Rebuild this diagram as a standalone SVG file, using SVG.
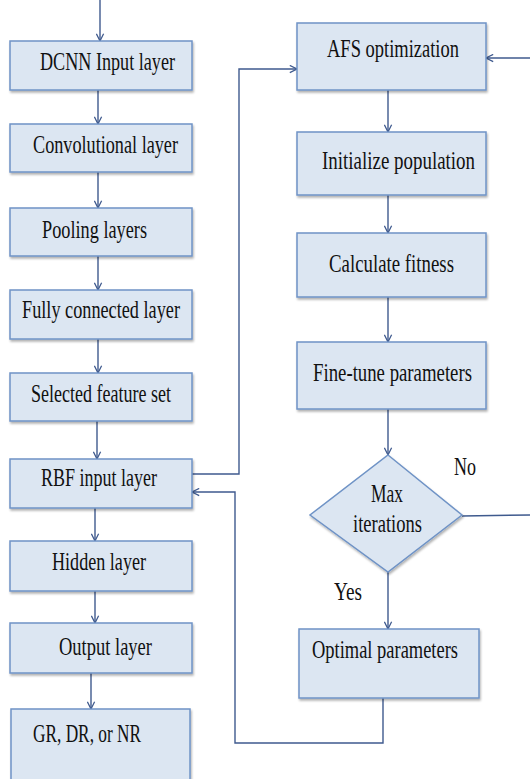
<svg xmlns="http://www.w3.org/2000/svg" width="530" height="779" viewBox="0 0 530 779">
<defs>
<marker id="ah" viewBox="0 0 10 10" refX="9" refY="5" markerWidth="9" markerHeight="9" markerUnits="userSpaceOnUse" orient="auto">
<path d="M1,1 L9,5 L1,9" fill="none" stroke="#3f5a8e" stroke-width="1.4"/>
</marker>
<filter id="sh" x="-5%" y="-5%" width="115%" height="125%">
<feDropShadow dx="1" dy="2" stdDeviation="1.2" flood-color="#000" flood-opacity="0.3"/>
</filter>
</defs>
<style>
.box{fill:#dce6f2;stroke:#6f93c6;stroke-width:1.5;filter:url(#sh)}
.c{fill:none;stroke:#3f5a8e;stroke-width:1.4}
</style>
<rect width="530" height="779" fill="#fff"/>
<g id="connectors">
<line class="c" x1="100" y1="0" x2="100" y2="41" marker-end="url(#ah)"/>
<line class="c" x1="98" y1="90" x2="98" y2="124" marker-end="url(#ah)"/>
<line class="c" x1="98" y1="172" x2="98" y2="208" marker-end="url(#ah)"/>
<line class="c" x1="98" y1="256" x2="98" y2="290" marker-end="url(#ah)"/>
<line class="c" x1="98" y1="339" x2="98" y2="373" marker-end="url(#ah)"/>
<line class="c" x1="97" y1="421" x2="97" y2="459" marker-end="url(#ah)"/>
<line class="c" x1="95" y1="508" x2="95" y2="541" marker-end="url(#ah)"/>
<line class="c" x1="95" y1="591" x2="95" y2="623" marker-end="url(#ah)"/>
<line class="c" x1="91" y1="673" x2="91" y2="709" marker-end="url(#ah)"/>
<polyline class="c" points="192,474 239,474 239,69 297,69" marker-end="url(#ah)"/>
<polyline class="c" points="383,698 383,743 235,743 235,492 192,492" marker-end="url(#ah)"/>
<polyline class="c" points="462,516 530,515"/>
<line class="c" x1="530" y1="58" x2="486" y2="58" marker-end="url(#ah)"/>
<line class="c" x1="388" y1="90" x2="388" y2="132" marker-end="url(#ah)"/>
<line class="c" x1="388" y1="195" x2="388" y2="233" marker-end="url(#ah)"/>
<line class="c" x1="388" y1="297" x2="388" y2="342" marker-end="url(#ah)"/>
<line class="c" x1="388" y1="409" x2="388" y2="455" marker-end="url(#ah)"/>
<line class="c" x1="388" y1="572" x2="388" y2="629" marker-end="url(#ah)"/>
</g>
<g font-family="Liberation Serif, Tinos, Times New Roman, serif" font-size="25" fill="#111" lengthAdjust="spacingAndGlyphs">
<g id="dcnn-input"><rect class="box" x="10" y="41" width="182" height="49"/><text x="40" y="70" textLength="135" lengthAdjust="spacingAndGlyphs">DCNN Input layer</text></g>
<g id="conv"><rect class="box" x="10" y="124" width="182" height="48"/><text x="33" y="153" textLength="145" lengthAdjust="spacingAndGlyphs">Convolutional layer</text></g>
<g id="pool"><rect class="box" x="10" y="208" width="182" height="48"/><text x="42" y="238" textLength="105" lengthAdjust="spacingAndGlyphs">Pooling layers</text></g>
<g id="fc"><rect class="box" x="10" y="290" width="182" height="49"/><text x="22" y="318" textLength="158" lengthAdjust="spacingAndGlyphs">Fully connected layer</text></g>
<g id="feat"><rect class="box" x="10" y="373" width="182" height="48"/><text x="31" y="402" textLength="140" lengthAdjust="spacingAndGlyphs">Selected feature set</text></g>
<g id="rbf"><rect class="box" x="10" y="459" width="182" height="49"/><text x="41" y="486" textLength="116" lengthAdjust="spacingAndGlyphs">RBF input layer</text></g>
<g id="hidden"><rect class="box" x="10" y="541" width="182" height="50"/><text x="52" y="570" textLength="94" lengthAdjust="spacingAndGlyphs">Hidden layer</text></g>
<g id="output"><rect class="box" x="10" y="623" width="182" height="50"/><text x="59" y="655" textLength="93" lengthAdjust="spacingAndGlyphs">Output layer</text></g>
<g id="result"><rect class="box" x="11" y="709" width="179" height="80"/><text x="33" y="742" textLength="108" lengthAdjust="spacingAndGlyphs">GR, DR, or NR</text></g>
<g id="afs"><rect class="box" x="297" y="23" width="189" height="67"/><text x="327" y="57" textLength="132" lengthAdjust="spacingAndGlyphs">AFS optimization</text></g>
<g id="init"><rect class="box" x="297" y="132" width="189" height="63"/><text x="322" y="169" textLength="153" lengthAdjust="spacingAndGlyphs">Initialize population</text></g>
<g id="fitness"><rect class="box" x="297" y="233" width="189" height="64"/><text x="329" y="272" textLength="125" lengthAdjust="spacingAndGlyphs">Calculate fitness</text></g>
<g id="finetune"><rect class="box" x="297" y="342" width="189" height="67"/><text x="313" y="381" textLength="159" lengthAdjust="spacingAndGlyphs">Fine-tune parameters</text></g>
<g id="maxiter"><polygon class="box" points="388,455 462,515 388,572 310,515"/><text x="371" y="502" textLength="32" lengthAdjust="spacingAndGlyphs">Max</text><text x="353" y="532" textLength="69" lengthAdjust="spacingAndGlyphs">iterations</text></g>
<g id="optimal"><rect class="box" x="299" y="629" width="180" height="69"/><text x="312" y="658" textLength="146" lengthAdjust="spacingAndGlyphs">Optimal parameters</text></g>
<g id="labels"><text x="454" y="475" textLength="22" lengthAdjust="spacingAndGlyphs">No</text><text x="334" y="600" textLength="28" lengthAdjust="spacingAndGlyphs">Yes</text></g>
</g>
</svg>
